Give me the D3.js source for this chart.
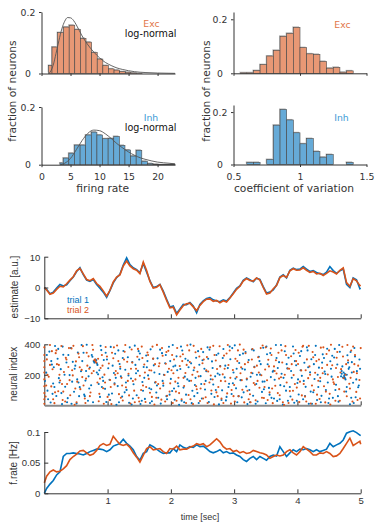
<!DOCTYPE html>
<html><head><meta charset="utf-8">
<script src="https://cdn.jsdelivr.net/npm/d3@7"></script>
<style>body{margin:0;background:#fff}svg{display:block}</style>
</head><body>
<svg id="c" width="376" height="522"></svg>
<script>
// ---------------- DATA ----------------
// firing-rate histograms (bin edges, fraction of neurons)
const excRateEdges = [1.24,1.81,2.78,3.80,4.77,5.73,6.70,7.67,8.63,9.60,10.57,11.53,12.50,13.46,14.43,15.40,16.36,17.33];
const excRateFrac  = [0.026,0.086,0.133,0.151,0.157,0.143,0.114,0.102,0.068,0.047,0.026,0.015,0.011,0.006,0.004,0.002,0.001];
const inhRateEdges = [3.18,3.75,4.71,5.68,6.65,7.61,8.58,9.55,10.51,11.48,12.45,13.41,14.38,15.35,16.31,17.28,18.25,19.21,20.18,21.15,22.11,23.0];
const inhRateFrac  = [0.006,0.023,0.040,0.068,0.068,0.103,0.113,0.103,0.090,0.091,0.098,0.067,0.051,0.030,0.050,0.012,0.004,0.002,0.001,0.001,0.002];
// log-normal fits
const excFitX = [1.3,2,2.5,3,3.5,4,4.5,5,5.5,6,7,8,9,10,11,12,13,14,15,16,18,20,23];
const excFitY = [0,0.026,0.065,0.107,0.145,0.170,0.182,0.181,0.173,0.158,0.122,0.093,0.070,0.051,0.036,0.026,0.018,0.013,0.009,0.006,0.003,0.0015,0.0005];
const inhFitX = [3.3,4,5,6,7,8,9,10,11,12,13,14,15,16,17,18,20,22,23];
const inhFitY = [0,0.005,0.022,0.052,0.084,0.109,0.120,0.118,0.107,0.091,0.073,0.058,0.044,0.033,0.024,0.018,0.009,0.005,0.003];
// CV histograms
const excCvEdges = [0.55,0.6,0.65,0.7,0.75,0.8,0.85,0.9,0.95,1.0,1.05,1.1,1.15,1.2,1.25,1.3,1.35,1.4];
const excCvFrac  = [0.002,0.002,0.010,0.032,0.064,0.085,0.137,0.148,0.170,0.095,0.072,0.070,0.044,0.019,0.022,0.004,0.009];
const inhCvEdges = [0.6,0.65,0.7,0.75,0.8,0.85,0.9,0.95,1.0,1.05,1.1,1.15,1.2,1.25,1.3,1.35,1.4];
const inhCvFrac  = [0.008,0.008,0,0.019,0.150,0.210,0.170,0.121,0.079,0.099,0.050,0.028,0.038,0,0,0.008];
const rateTicks = [0,5,10,15,20];
const cvTicks = [0.5,1,1.5];
const fracTicks = [0,0.2];

// time grid (s) shared by the estimate and rate traces
const timeGrid = [0,0.037,0.090,0.142,0.195,0.247,0.300,0.353,0.405,0.458,0.511,0.563,0.616,0.669,0.721,0.774,0.827,0.879,0.932,0.985,1.037,1.090,1.143,1.195,1.248,1.301,1.353,1.406,1.459,1.511,1.564,1.617,1.669,1.722,1.775,1.827,1.880,1.933,1.985,2.038,2.091,2.143,2.196,2.249,2.301,2.354,2.407,2.459,2.512,2.565,2.617,2.670,2.723,2.775,2.828,2.880,2.933,2.986,3.038,3.091,3.144,3.196,3.249,3.302,3.354,3.407,3.460,3.512,3.565,3.618,3.670,3.723,3.776,3.828,3.881,3.934,3.986,4.039,4.092,4.144,4.197,4.250,4.302,4.355,4.408,4.460,4.513,4.566,4.618,4.671,4.724,4.776,4.829,4.881,4.934,4.987,5.0];
const estTrial1 = [0,-0.6,-2.0,-1.5,-0.2,1.0,0.5,0.9,2.2,3.4,5.2,6.4,4.2,2.4,2.0,2.6,1.0,-0.2,-1.5,-3.2,-1.0,1.5,3.2,4.3,7.3,9.6,7.4,6.4,5.8,4.8,7.8,5.0,2.2,0,0.3,1.0,-1.2,-3.8,-6.3,-6.0,-8.4,-7.0,-5.5,-5.6,-4.9,-6.0,-8.2,-5.5,-4.3,-3.6,-3.3,-4.0,-4.4,-4.6,-4.0,-4.4,-3.3,-1.8,-0.3,0.5,2.3,3.1,2.5,1.9,3.0,2.6,0.3,-1.8,-1.5,-0.8,0.8,3.4,4.1,3.1,5.6,6.3,5.8,6.0,6.8,6.0,5.2,5.5,4.9,4.5,4.2,5.0,6.8,5.5,4.6,5.4,6.0,1.0,0.0,3.1,2.5,-0.4,-0.2];
const estTrial2 = [0,-0.8,-2.2,-1.8,-0.6,0.4,0.2,1.2,2.4,3.5,5.4,6.2,4.4,2.6,2.2,2.9,1.3,0.4,-1.1,-2.8,-0.9,1.8,3.4,4.1,7.0,8.6,7.0,6.1,5.6,4.5,8.3,5.5,2.0,-0.2,0.1,0.9,-1.5,-4.2,-6.6,-6.4,-8.9,-7.3,-5.9,-5.3,-5.1,-6.3,-7.5,-5.8,-4.6,-3.8,-3.7,-4.5,-4.2,-5.0,-4.3,-4.7,-3.4,-2.0,-0.6,0.4,2.1,2.9,2.3,2.1,3.1,2.4,0.0,-2.1,-1.8,-0.4,0.6,3.2,3.9,3.3,5.4,6.1,5.6,5.7,6.4,5.6,4.9,5.2,4.4,4.6,3.9,4.6,5.4,5.0,4.4,5.6,6.4,1.6,0.4,2.9,2.2,0.6,0.8];
const rateTrial1 = [0,0.008,0.015,0.021,0.030,0.035,0.060,0.065,0.065,0.066,0.065,0.064,0.0625,0.065,0.068,0.070,0.072,0.072,0.071,0.068,0.071,0.077,0.079,0.0815,0.088,0.0815,0.077,0.071,0.060,0.054,0.065,0.068,0.079,0.076,0.072,0.068,0.065,0.066,0.066,0.073,0.068,0.079,0.075,0.073,0.076,0.075,0.079,0.076,0.077,0.073,0.068,0.066,0.068,0.071,0.066,0.068,0.065,0.066,0.0625,0.060,0.055,0.052,0.057,0.060,0.055,0.060,0.057,0.054,0.060,0.0625,0.061,0.076,0.068,0.060,0.066,0.071,0.068,0.072,0.071,0.073,0.071,0.068,0.071,0.068,0.070,0.072,0.0815,0.076,0.079,0.0815,0.087,0.098,0.1005,0.102,0.099,0.095,0.094];
const rateTrial2 = [0.017,0.028,0.035,0.038,0.035,0.036,0.040,0.045,0.055,0.060,0.064,0.069,0.070,0.066,0.062,0.064,0.070,0.078,0.081,0.078,0.080,0.093,0.086,0.080,0.078,0.080,0.075,0.066,0.059,0.051,0.062,0.073,0.076,0.071,0.072,0.073,0.068,0.065,0.073,0.072,0.077,0.071,0.072,0.072,0.075,0.077,0.081,0.079,0.081,0.076,0.079,0.084,0.089,0.084,0.076,0.072,0.073,0.068,0.070,0.066,0.068,0.065,0.066,0.070,0.068,0.066,0.065,0.0625,0.057,0.060,0.0625,0.061,0.0625,0.068,0.071,0.066,0.0625,0.068,0.076,0.072,0.068,0.0625,0.0625,0.066,0.065,0.068,0.065,0.060,0.061,0.065,0.073,0.0815,0.090,0.078,0.0815,0.085,0.080];
const timeTicks = [1,2,3,4,5];
const estTicks = [-10,0,10];
const neuronTicks = [200,400];
const rateYTicks = [0,0.05,0.1];

// spike rasters: [time in 1/100 s, neuron index]
const spikesTrial1 = [[3,214],[5,96],[8,352],[10,18],[12,267],[14,143],[17,389],[19,61],[21,305],[23,178],[26,237],[28,8],[30,331],[33,122],[35,281],[37,47],[40,198],[42,376],[44,155],[47,89],[49,260],[51,12],[53,346],[56,119],[58,223],[60,290],[63,70],[65,162],[67,397],[69,30],[72,248],[74,131],[76,318],[78,290],[80,285],[81,300],[83,275],[85,203],[86,140],[88,55],[90,362],[92,184],[94,297],[96,108],[98,22],[101,243],[103,168],[105,383],[107,77],[110,212],[112,338],[114,4],[116,126],[119,271],[121,190],[123,57],[125,356],[128,233],[130,101],[132,315],[134,16],[137,176],[139,284],[141,138],[143,391],[146,66],[148,226],[150,300],[152,9],[155,153],[157,251],[159,42],[161,327],[164,196],[166,112],[168,367],[170,27],[173,262],[175,149],[177,84],[179,308],[182,205],[184,11],[186,342],[188,129],[191,276],[193,60],[195,219],[197,384],[200,173],[202,94],[204,254],[206,36],[209,321],[211,145],[213,3],[215,238],[218,359],[220,116],[222,188],[224,70],[227,294],[229,160],[231,398],[233,14],[236,230],[238,133],[240,312],[242,81],[245,266],[247,191],[249,45],[251,349],[254,104],[256,223],[258,380],[260,21],[263,171],[265,288],[267,136],[269,54],[272,330],[274,209],[276,6],[278,257],[281,98],[283,369],[285,183],[287,32],[290,244],[292,141],[294,302],[296,74],[299,215],[301,393],[303,111],[305,20],[308,277],[310,165],[312,52],[314,339],[317,234],[319,123],[321,8],[323,297],[326,187],[328,366],[330,63],[332,252],[335,140],[337,25],[339,318],[341,201],[344,88],[346,377],[348,156],[350,13],[353,269],[355,114],[357,343],[359,49],[362,227],[364,168],[366,395],[368,29],[371,283],[373,132],[375,207],[377,5],[380,354],[382,96],[384,242],[386,312],[389,58],[391,181],[393,386],[395,17],[398,263],[400,146],[402,71],[404,323],[407,193],[409,40],[411,279],[413,121],[416,360],[418,10],[420,216],[422,302],[425,86],[427,172],[429,390],[431,34],[434,247],[436,158],[438,62],[440,334],[443,221],[445,100],[447,371],[449,15],[452,289],[454,188],[456,49],[458,313],[461,135],[463,268],[465,24],[467,351],[470,207],[472,182],[474,195],[475,178],[477,90],[479,328],[481,239],[483,7],[486,283],[488,148],[490,376],[492,53],[494,224],[496,118],[498,300],
[1,160],[6,40],[11,290],[16,120],[22,370],[27,80],[32,200],[38,330],[43,10],[48,240],[54,150],[59,395],[64,60],[70,190],[75,330],[79,280],[82,295],[84,265],[87,230],[91,120],[97,345],[102,70],[108,260],[113,180],[118,20],[124,310],[129,150],[135,380],[140,45],[145,210],[151,340],[156,95],[162,250],[167,15],[172,305],[178,130],[183,365],[189,200],[194,40],[199,290],[205,110],[210,230],[216,385],[221,20],[226,170],[232,275],[237,60],[243,355],[248,140],[253,240],[259,305],[264,75],[270,190],[275,340],[280,35],[286,260],[291,120],[297,375],[302,175],[307,60],[313,240],[318,350],[324,100],[329,210],[334,10],[340,290],[345,155],[351,385],[356,70],[361,220],[367,310],[372,40],[378,180],[383,270],[388,120],[394,340],[399,30],[405,230],[410,160],[415,380],[421,90],[426,270],[432,200],[437,20],[442,310],[448,150],[453,240],[459,370],[464,60],[469,190],[473,215],[476,170],[480,280],[485,50],[491,320],[497,130],
[4,330],[13,75],[15,250],[24,150],[29,385],[36,20],[45,285],[52,170],[55,60],[62,345],[66,225],[71,110],[77,20],[83,215],[89,390],[93,160],[99,300],[104,35],[111,145],[117,360],[120,240],[127,85],[133,195],[138,5],[144,265],[149,355],[154,30],[158,180],[163,290],[169,105],[174,215],[180,50],[187,160],[192,330],[198,70],[203,395],[207,260],[212,125],[217,30],[223,305],[228,250],[234,95],[239,180],[244,15],[250,295],[255,160],[261,365],[266,245],[271,100],[277,200],[282,310],[288,55],[293,385],[298,145],[304,240],[309,330],[315,85],[320,170],[325,20],[331,360],[336,200],[342,270],[347,105],[352,335],[358,185],[363,45],[369,245],[374,395],[379,125],[385,30],[390,225],[396,290],[401,170],[406,355],[412,60],[417,250],[423,10],[428,330],[433,120],[439,280],[444,205],[450,45],[455,325],[460,100],[466,395],[471,255],[475,205],[478,120],[484,350],[489,15],[493,170],[499,240],[470,225],[474,185],[478,200],[482,250],[486,215]];
const spikesTrial2 = [[0,380],[0,330],[0,290],[0,250],[0,215],[0,170],[0,125],[0,80],[0,40],[0,10],
[2,58],[4,301],[7,187],[9,395],[11,124],[13,236],[16,14],[18,342],[20,270],[22,92],[25,163],[27,389],[29,35],[31,218],[34,311],[36,140],[38,251],[41,66],[43,373],[45,196],[48,3],[50,288],[52,155],[54,339],[57,106],[59,232],[61,388],[64,45],[66,175],[68,260],[70,321],[73,84],[75,210],[77,364],[79,295],[82,280],[84,150],[86,27],[89,245],[91,330],[93,112],[95,201],[97,382],[100,55],[102,274],[104,166],[106,8],[109,309],[111,137],[113,225],[115,392],[118,73],[120,253],[122,180],[124,31],[127,351],[129,118],[131,286],[133,207],[136,12],[138,366],[140,159],[142,96],[145,240],[147,318],[149,49],[151,194],[154,385],[156,130],[158,268],[160,22],[163,346],[165,173],[167,82],[169,228],[172,306],[174,5],[176,152],[178,396],[181,256],[183,110],[185,37],[187,325],[190,199],[192,272],[194,63],[196,357],[199,144],[201,230],[203,15],[205,300],[208,90],[210,376],[212,181],[214,258],[217,40],[219,335],[221,127],[223,212],[226,393],[228,68],[230,284],[232,161],[235,9],[237,247],[239,348],[241,105],[244,190],[246,28],[248,370],[250,276],[253,139],[255,53],[257,316],[259,222],[262,380],[264,97],[266,169],[268,6],[271,294],[273,238],[275,120],[277,387],[280,44],[282,203],[284,326],[286,158],[289,78],[291,264],[293,359],[295,11],[298,231],[300,133],[302,305],[304,186],[307,60],[309,398],[311,249],[313,102],[316,19],[318,341],[320,176],[322,282],[325,72],[327,213],[329,369],[331,146],[334,33],[336,260],[338,315],[340,115],[343,197],[345,392],[347,48],[349,235],[352,164],[354,299],[356,85],[358,372],[361,14],[363,255],[365,128],[367,209],[370,345],[372,66],[374,184],[376,281],[379,2],[381,388],[383,150],[385,241],[388,93],[390,322],[392,37],[394,198],[397,363],[399,116],[401,271],[403,21],[406,229],[408,384],[410,140],[412,57],[415,301],[417,178],[419,255],[421,12],[424,350],[426,99],[428,213],[430,290],[433,161],[435,41],[437,378],[439,245],[442,125],[444,19],[446,336],[448,202],[451,75],[453,397],[455,263],[457,151],[460,30],[462,312],[464,186],[466,106],[469,237],[471,384],[473,177],[476,200],[478,59],[480,295],[482,141],[485,359],[487,25],[489,219],[491,330],[493,88],[496,260],[498,166],[500,375],
[3,130],[9,265],[14,40],[19,360],[24,200],[30,90],[35,300],[40,165],[46,390],[51,20],[56,250],[62,130],[67,345],[72,60],[78,225],[81,290],[85,305],[88,175],[94,10],[99,320],[105,120],[110,380],[116,210],[121,50],[126,300],[132,160],[137,240],[143,20],[148,370],[153,100],[159,215],[164,330],[170,55],[175,270],[180,140],[186,375],[191,25],[197,240],[202,330],[207,155],[213,80],[218,290],[224,15],[229,360],[234,200],[240,125],[245,320],[251,45],[256,230],[261,150],[267,390],[272,85],[278,255],[283,15],[288,340],[294,180],[299,60],[305,290],[310,210],[315,365],[321,95],[326,20],[332,250],[337,160],[342,375],[348,120],[353,35],[359,330],[364,225],[369,80],[375,360],[380,200],[386,15],[391,270],[396,140],[402,345],[407,65],[413,230],[418,390],[423,130],[429,10],[434,300],[440,210],[445,90],[450,360],[456,170],[461,245],[467,30],[472,320],[477,270],[483,110],[488,385],[494,210],[499,45],
[5,200],[12,355],[17,85],[23,265],[28,140],[33,25],[39,375],[44,230],[49,110],[55,315],[60,185],[65,15],[71,240],[76,395],[80,300],[87,75],[92,260],[96,150],[103,35],[107,345],[112,200],[117,290],[123,130],[128,395],[134,65],[139,280],[144,170],[150,25],[155,310],[161,120],[166,230],[171,385],[177,50],[182,275],[188,145],[193,350],[198,90],[204,210],[209,30],[215,320],[220,180],[225,265],[231,40],[236,390],[242,220],[247,110],[252,300],[258,15],[263,195],[269,330],[274,60],[279,160],[285,240],[290,395],[296,100],[301,25],[306,360],[312,165],[317,270],[323,40],[328,300],[333,135],[339,215],[344,50],[350,380],[355,255],[360,110],[366,295],[371,175],[377,20],[382,330],[387,240],[393,95],[398,290],[404,155],[409,390],[414,25],[420,200],[425,315],[431,70],[436,180],[441,380],[447,265],[452,5],[458,140],[463,350],[468,215],[474,90],[479,395],[484,180],[490,270],[495,35]];

// ---------------- STYLE ----------------
const C = {blue:'#0072BD', orange:'#D95319', excFill:'#E89875', inhFill:'#66AAD7',
  excText:'#E27648', inhText:'#3E9BD6', axis:'#333', edge:'#4a4a4a', shadow:'#b4b4b4', fit:'#555'};
const TOPFONT = '"DejaVu Sans", sans-serif';
const BOTFONT = '"Liberation Sans", Arial, sans-serif';

const svg = d3.select('#c');

function styleAxis(g, font, size){
  g.select('.domain').attr('stroke', C.axis).attr('stroke-width', 1);
  g.selectAll('.tick line').attr('stroke', C.axis).attr('stroke-width', 1);
  g.selectAll('text').attr('fill', C.axis).attr('font-family', font).attr('font-size', size);
}

// ---------------- TOP HISTOGRAMS ----------------
function histPanel(o){
  const g = svg.append('g');
  const x = d3.scaleLinear().domain(o.xDomain).range(o.xRange);
  const y = d3.scaleLinear().domain(o.yDomain).range(o.yRange);
  const bins = o.vals.map((v,i)=>({x0:o.edges[i], x1:o.edges[i+1], v})).filter(d=>d.v>0);
  g.selectAll('rect.sh').data(bins).join('rect').attr('class','sh')
    .attr('x', d=>x(d.x0)-1).attr('y', d=>y(d.v)-1)
    .attr('width', d=>x(d.x1)-x(d.x0)).attr('height', d=>y(0)-y(d.v))
    .attr('fill', C.shadow);
  g.selectAll('rect.b').data(bins).join('rect').attr('class','b')
    .attr('x', d=>x(d.x0)).attr('y', d=>y(d.v))
    .attr('width', d=>x(d.x1)-x(d.x0)).attr('height', d=>y(0)-y(d.v))
    .attr('fill', o.fill).attr('stroke', C.edge).attr('stroke-width', 0.6);
  if (o.fitX){
    const pts = o.fitX.map((v,i)=>[v, o.fitY[i]]);
    g.append('path').datum(pts)
      .attr('d', d3.line().x(d=>x(d[0])).y(d=>y(d[1])).curve(d3.curveMonotoneX))
      .attr('fill','none').attr('stroke', C.fit).attr('stroke-width', 0.9);
  }
  const yAx = g.append('g').attr('transform',`translate(${o.xRange[0]},0)`)
    .call(d3.axisLeft(y).tickValues(fracTicks).tickSize(2.5).tickSizeOuter(0).tickFormat(d3.format('')));
  styleAxis(yAx, TOPFONT, 9.3);
  yAx.selectAll('text').attr('text-anchor','middle').attr('x', -13.5).attr('dy','0.35em');
  const xAx = g.append('g').attr('transform',`translate(0,${o.yRange[0]})`)
    .call(d3.axisBottom(x).tickValues(o.xTicks).tickSize(2.5).tickSizeOuter(0)
      .tickFormat(o.showX ? d3.format('') : ''));
  styleAxis(xAx, TOPFONT, 9.3);
  xAx.selectAll('text').attr('y', 12).attr('dy','0.35em');
  g.append('text').attr('x', o.labX).attr('y', o.labY).attr('text-anchor','middle')
    .attr('dominant-baseline','central').attr('font-family', TOPFONT).attr('font-size', 9.3)
    .attr('fill', o.labColor).text(o.label);
  if (o.fitX){
    g.append('text').attr('x', 176.5).attr('y', o.labY + 10).attr('text-anchor','end')
      .attr('dominant-baseline','central').attr('font-family', TOPFONT).attr('font-size', 9.6)
      .attr('fill', '#111').text('log-normal');
  }
  if (o.xLabel){
    g.append('text').attr('x', (o.xRange[0]+o.xRange[1])/2 + o.xLabDx).attr('y', o.yRange[0] + 23.6)
      .attr('text-anchor','middle').attr('dominant-baseline','central')
      .attr('font-family', TOPFONT).attr('font-size', 10.7).attr('fill', C.axis).text(o.xLabel);
  }
}

histPanel({edges:excRateEdges, vals:excRateFrac, fitX:excFitX, fitY:excFitY, fill:C.excFill,
  xDomain:[0,23], xRange:[41.5,175], yDomain:[0,0.2], yRange:[73.5,12], xTicks:rateTicks, showX:false,
  label:'Exc', labColor:C.excText, labX:151.5, labY:23.5});
histPanel({edges:inhRateEdges, vals:inhRateFrac, fitX:inhFitX, fitY:inhFitY, fill:C.inhFill,
  xDomain:[0,23], xRange:[41.5,175], yDomain:[0,0.2], yRange:[164.7,107], xTicks:rateTicks, showX:true,
  label:'Inh', labColor:C.inhText, labX:151, labY:117.5, xLabel:'firing rate', xLabDx:-5.5});
histPanel({edges:excCvEdges, vals:excCvFrac, fill:C.excFill,
  xDomain:[0.5,1.5], xRange:[233.5,366.5], yDomain:[0,0.227], yRange:[73.3,12], xTicks:cvTicks, showX:false,
  label:'Exc', labColor:C.excText, labX:342.5, labY:24});
histPanel({edges:inhCvEdges, vals:inhCvFrac, fill:C.inhFill,
  xDomain:[0.5,1.5], xRange:[233.5,366.5], yDomain:[0,0.227], yRange:[164.5,105], xTicks:cvTicks, showX:true,
  label:'Inh', labColor:C.inhText, labX:341.5, labY:117, xLabel:'coefficient of variation', xLabDx:-6});

// shared y labels (top)
[[12.5,91],[206,91]].forEach(([cx,cy])=>{
  svg.append('text').attr('transform',`translate(${cx},${cy}) rotate(-90)`)
    .attr('text-anchor','middle').attr('dominant-baseline','central')
    .attr('font-family', TOPFONT).attr('font-size', 10.7).attr('fill', C.axis)
    .text('fraction of neurons');
});

// ---------------- BOTTOM PANELS ----------------
const xT = d3.scaleLinear().domain([0,5]).range([44.3,360.7]);

function yLabel(text, cx, cy){
  svg.append('text').attr('transform',`translate(${cx},${cy}) rotate(-90)`)
    .attr('text-anchor','middle').attr('dominant-baseline','central')
    .attr('font-family', BOTFONT).attr('font-size', 10).attr('fill', C.axis).text(text);
}
function bottomAxes(g, y, yTicks, yFmt, showX, xStroke){
  const ya = g.append('g').attr('transform',`translate(${xT.range()[0]},0)`)
    .call(d3.axisLeft(y).tickValues(yTicks).tickSize(-4).tickPadding(4).tickSizeOuter(0).tickFormat(yFmt));
  styleAxis(ya, BOTFONT, 9.5);
  ya.selectAll('text').attr('dy','0.35em');
  const xa = g.append('g').attr('transform',`translate(0,${y.range()[0]})`)
    .call(d3.axisBottom(xT).tickValues(timeTicks).tickSize(-4).tickPadding(5).tickSizeOuter(0)
      .tickFormat(showX ? d3.format('') : ''));
  styleAxis(xa, BOTFONT, 9.5);
  xa.selectAll('text').attr('y', 7.4).attr('dy','0.35em');
  if (xStroke) xa.select('.domain').attr('stroke', xStroke).attr('stroke-width', 2);
}

// estimate
{
  const g = svg.append('g');
  const y = d3.scaleLinear().domain([-10,10]).range([318.3,256.7]);
  const line = d3.line().x((d,i)=>xT(timeGrid[i])).y(d=>y(d));
  g.append('path').datum(estTrial1).attr('d', line).attr('fill','none').attr('stroke', C.blue).attr('stroke-width',1.6);
  g.append('path').datum(estTrial2).attr('d', line).attr('fill','none').attr('stroke', C.orange).attr('stroke-width',1.6);
  bottomAxes(g, y, estTicks, d3.format(''), false);
  g.append('text').attr('x',67).attr('y',303).attr('font-family',BOTFONT).attr('font-size',9).attr('fill',C.blue).text('trial 1');
  g.append('text').attr('x',67).attr('y',313).attr('font-family',BOTFONT).attr('font-size',9).attr('fill',C.orange).text('trial 2');
  yLabel('estimate [a.u.]', 14, 287);
}

// raster
{
  const g = svg.append('g');
  const y = d3.scaleLinear().domain([0,400]).range([405.3,344.3]);
  bottomAxes(g, y, neuronTicks, d3.format(''), false, '#8a8a8a');
  g.selectAll('circle.s1').data(spikesTrial1).join('circle').attr('class','s1')
    .attr('cx', d=>xT(d[0]/100)).attr('cy', d=>y(d[1])).attr('r',1.05).attr('fill', C.blue);
  g.selectAll('circle.s2').data(spikesTrial2).join('circle').attr('class','s2')
    .attr('cx', d=>xT(d[0]/100)).attr('cy', d=>y(d[1])).attr('r',1.05).attr('fill', C.orange);
  yLabel('neural index', 13.5, 374);
}

// firing rate
{
  const g = svg.append('g');
  const y = d3.scaleLinear().domain([0,0.1]).range([493.3,432]);
  const line = d3.line().x((d,i)=>xT(timeGrid[i])).y(d=>y(d));
  g.append('path').datum(rateTrial1).attr('d', line).attr('fill','none').attr('stroke', C.blue).attr('stroke-width',1.6);
  g.append('path').datum(rateTrial2).attr('d', line).attr('fill','none').attr('stroke', C.orange).attr('stroke-width',1.6);
  bottomAxes(g, y, rateYTicks, d=>d===0?'0':String(d), true);
  yLabel('f.rate [Hz]', 13.5, 463);
  svg.append('text').attr('x', 200).attr('y', 520).attr('text-anchor','middle')
    .attr('font-family', BOTFONT).attr('font-size', 9).attr('fill', C.axis).text('time [sec]');
}
</script>
</body></html>
